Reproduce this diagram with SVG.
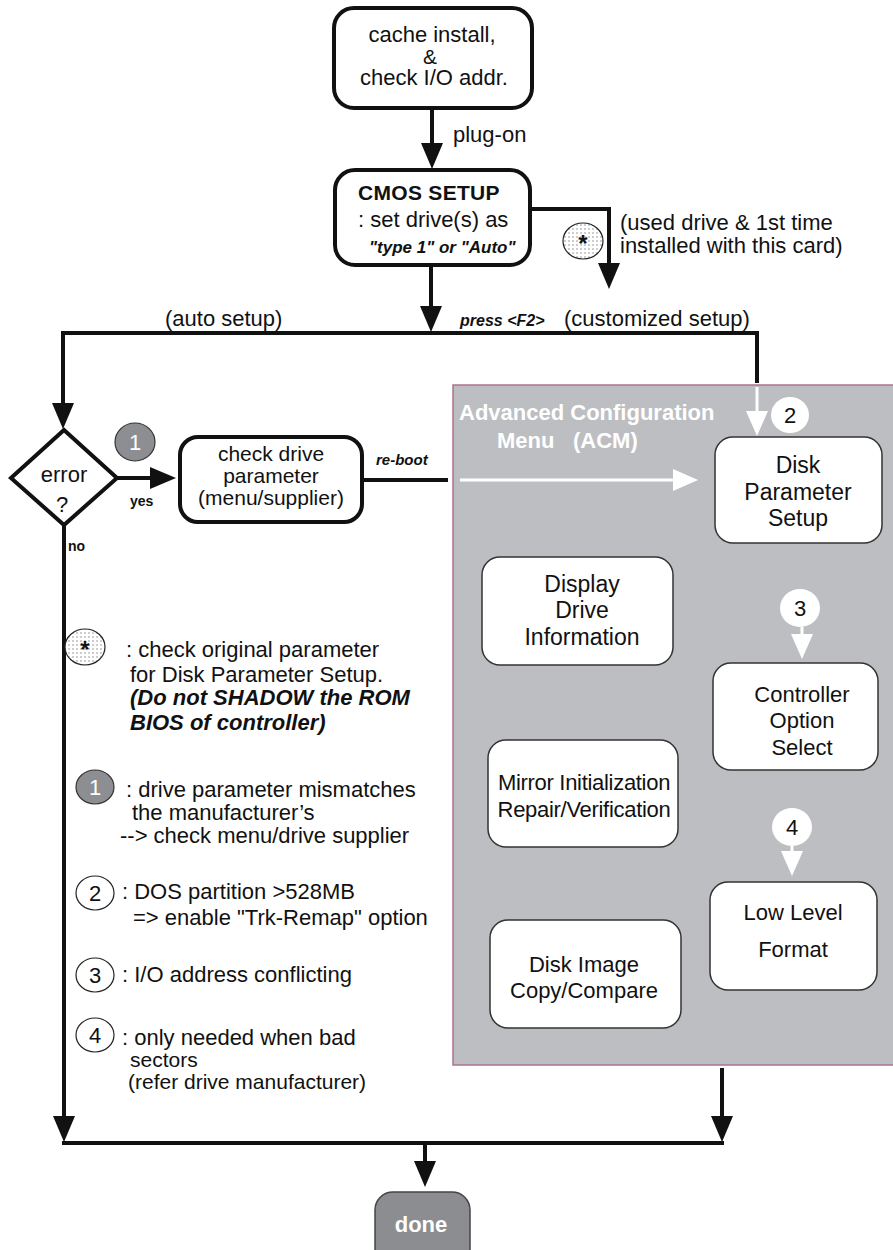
<svg xmlns="http://www.w3.org/2000/svg" width="893" height="1250" viewBox="0 0 893 1250">
<defs>
  <style>
    text{font-family:"Liberation Sans",Arial,sans-serif;fill:#111}
    .t22{font-size:22px}
    .t21{font-size:21px}
    .t23{font-size:23px}
    .mid{text-anchor:middle}
    .b{font-weight:bold}
    .bi{font-weight:bold;font-style:italic}
    .wt{fill:#fff}
    .box{fill:#fff;stroke:#111;stroke-width:4}
    .pbox{fill:#fff;stroke:#333;stroke-width:1.5}
    .ln{fill:none;stroke:#111;stroke-width:4}
    .wln{fill:none;stroke:#fff;stroke-width:3}
    .num{fill:#fff;stroke:#222;stroke-width:1.2}
  </style>
  <marker id="ah" markerUnits="userSpaceOnUse" markerWidth="26" markerHeight="22" refX="3" refY="11" orient="auto">
    <path d="M0,0 L26,11 L0,22 Z" fill="#111"/>
  </marker>
  <marker id="wah" markerUnits="userSpaceOnUse" markerWidth="25" markerHeight="22" refX="3" refY="11" orient="auto">
    <path d="M0,0 L25,11 L0,22 Z" fill="#fff"/>
  </marker>
  <pattern id="dots" width="4" height="4" patternUnits="userSpaceOnUse">
    <rect width="4" height="4" fill="#fff"/>
    <circle cx="1" cy="1" r="0.7" fill="#777"/>
  </pattern>
</defs>

<!-- ACM panel -->
<g id="acm-panel">
  <rect x="453" y="385" width="445" height="680" fill="#bdbec2" stroke="#b07090" stroke-width="1.5"/>
  <text class="t22 b wt" x="459" y="420">Advanced Configuration</text>
  <text class="t22 b wt" x="497" y="448">Menu</text>
  <text class="t22 b wt" x="573" y="448">(ACM)</text>
</g>

<!-- connectors -->
<g id="connectors">
  <path class="ln" d="M432,108 V146" marker-end="url(#ah)"/>
  <path class="ln" d="M431,265 V309" marker-end="url(#ah)"/>
  <path class="ln" d="M530,209 H609 V266" marker-end="url(#ah)"/>
  <path class="ln" d="M757,383 V333 H63 V406" marker-end="url(#ah)"/>
  <path class="ln" d="M117,478 H153" marker-end="url(#ah)"/>
  <path class="ln" d="M362,480 H448"/>
  <path class="wln" d="M460,480 H676" marker-end="url(#wah)"/>
  <path class="wln" d="M757,387 V414" marker-end="url(#wah)"/>
  <path class="wln" d="M802,627 V637" marker-end="url(#wah)"/>
  <path class="wln" d="M792,846 V854" marker-end="url(#wah)"/>
  <path class="ln" d="M64,525 V1119" marker-end="url(#ah)"/>
  <path class="ln" d="M722,1068 V1119" marker-end="url(#ah)"/>
  <path class="ln" d="M62,1143 H724"/>
  <path class="ln" d="M425,1143 V1164" marker-end="url(#ah)"/>
  <text class="t22" x="453" y="142">plug-on</text>
  <text class="t22" x="165" y="326">(auto setup)</text>
  <text class="bi" x="460" y="326" style="font-size:16px">press &lt;F2&gt;</text>
  <text class="t22" x="564" y="326">(customized setup)</text>
  <text class="t22" x="620" y="230">(used drive &amp; 1st time</text>
  <text class="t22" x="620" y="253">installed with this card)</text>
  <ellipse cx="583" cy="241" rx="20" ry="18" fill="url(#dots)" stroke="#222" stroke-width="1.2"/>
  <text class="b mid" x="583" y="252" style="font-size:24px">*</text>
  <text class="b" x="130" y="506" style="font-size:14px">yes</text>
  <text class="b" x="68" y="551" style="font-size:14px">no</text>
  <text class="bi" x="376" y="465" style="font-size:15px">re-boot</text>
  <ellipse cx="135" cy="442" rx="20" ry="19" fill="#8d8e92" stroke="#333" stroke-width="1.2"/>
  <text class="t22 mid wt" x="135" y="450">1</text>
  <ellipse cx="790" cy="415" rx="19" ry="18" fill="#fff"/>
  <text class="t22 mid" x="790" y="423">2</text>
  <ellipse cx="800" cy="608" rx="20" ry="19" fill="#fff"/>
  <text class="t22 mid" x="800" y="616">3</text>
  <ellipse cx="792" cy="827" rx="20" ry="19" fill="#fff"/>
  <text class="t22 mid" x="792" y="835">4</text>
</g>

<g id="cache-install">
  <rect class="box" x="334" y="8" width="198" height="100" rx="20"/>
  <text class="t22 mid" x="432" y="42">cache  install,</text>
  <text class="mid" x="430" y="64" style="font-size:21px">&amp;</text>
  <text class="t22 mid" x="434" y="85">check I/O addr.</text>
</g>

<g id="cmos-setup">
  <rect class="box" x="335" y="170" width="195" height="95" rx="20"/>
  <text class="b" x="358" y="200" style="font-size:21px;letter-spacing:0.3px">CMOS SETUP</text>
  <text class="t22" x="358" y="227">: set drive(s) as</text>
  <text class="bi" x="369" y="253" style="font-size:17px">"type 1" or "Auto"</text>
</g>

<g id="error">
  <polygon points="64,430 117,478 64,525 11,478" fill="#fff" stroke="#111" stroke-width="4" stroke-linejoin="miter"/>
  <text class="t22 mid" x="64" y="482">error</text>
  <text class="t22 mid" x="62" y="512">?</text>
</g>

<g id="check-drive">
  <rect class="box" x="180" y="437" width="182" height="85" rx="18"/>
  <text class="t21 mid" x="271" y="461">check drive</text>
  <text class="t21 mid" x="271" y="483">parameter</text>
  <text class="t21 mid" x="271" y="505">(menu/supplier)</text>
</g>

<g id="disk-parameter-setup">
  <rect class="pbox" x="715" y="437" width="167" height="106" rx="18"/>
  <text class="t23 mid" x="798" y="473">Disk</text>
  <text class="t23 mid" x="798" y="500">Parameter</text>
  <text class="t23 mid" x="798" y="526">Setup</text>
</g>

<g id="display-drive-information">
  <rect class="pbox" x="482" y="557" width="191" height="108" rx="18"/>
  <text class="t23 mid" x="582" y="592">Display</text>
  <text class="t23 mid" x="582" y="618">Drive</text>
  <text class="t23 mid" x="582" y="645">Information</text>
</g>

<g id="controller-option-select">
  <rect class="pbox" x="713" y="663" width="165" height="107" rx="18"/>
  <text class="t22 mid" x="802" y="702">Controller</text>
  <text class="t22 mid" x="802" y="728">Option</text>
  <text class="t22 mid" x="802" y="755">Select</text>
</g>

<g id="mirror-initialization">
  <rect class="pbox" x="488" y="740" width="190" height="107" rx="18"/>
  <text class="t22 mid" x="584" y="790" style="letter-spacing:-0.3px">Mirror Initialization</text>
  <text class="t22 mid" x="584" y="817" style="letter-spacing:-0.3px">Repair/Verification</text>
</g>

<g id="low-level-format">
  <rect class="pbox" x="710" y="882" width="167" height="108" rx="18"/>
  <text class="t22 mid" x="793" y="920">Low Level</text>
  <text class="t22 mid" x="793" y="957">Format</text>
</g>

<g id="disk-image-copy">
  <rect class="pbox" x="490" y="920" width="191" height="108" rx="18"/>
  <text class="t22 mid" x="584" y="972">Disk Image</text>
  <text class="t22 mid" x="584" y="998">Copy/Compare</text>
</g>

<g id="done">
  <rect x="375" y="1192" width="95" height="80" rx="18" fill="#8c8d91" stroke="#444" stroke-width="1.5"/>
  <text class="b mid wt" x="421" y="1232" style="font-size:22px">done</text>
</g>

<g id="legend">
  <ellipse cx="85" cy="647" rx="20" ry="18" fill="url(#dots)" stroke="#222" stroke-width="1.2"/>
  <text class="b mid" x="85" y="658" style="font-size:24px">*</text>
  <text class="t22" x="126" y="657">: check original parameter</text>
  <text class="t22" x="130" y="682">for Disk Parameter Setup.</text>
  <text class="t22 bi" x="130" y="705">(Do not SHADOW the ROM</text>
  <text class="t22 bi" x="130" y="730">BIOS of controller)</text>

  <ellipse cx="95" cy="787" rx="19" ry="17" fill="#8d8e92" stroke="#333" stroke-width="1.2"/>
  <text class="t22 mid wt" x="95" y="795">1</text>
  <text class="t22" x="126" y="797">: drive parameter mismatches</text>
  <text class="t22" x="132" y="820">the manufacturer’s</text>
  <text class="t22" x="120" y="843">--&gt; check menu/drive supplier</text>

  <ellipse class="num" cx="95" cy="893" rx="19" ry="17"/>
  <text class="t22 mid" x="95" y="901">2</text>
  <text class="t22" x="122" y="899">: DOS partition &gt;528MB</text>
  <text class="t22" x="133" y="925">=&gt; enable "Trk-Remap" option</text>

  <ellipse class="num" cx="95" cy="975" rx="19" ry="17"/>
  <text class="t22 mid" x="95" y="983">3</text>
  <text class="t22" x="122" y="982">: I/O address conflicting</text>

  <ellipse class="num" cx="95" cy="1035" rx="19" ry="17"/>
  <text class="t22 mid" x="95" y="1043">4</text>
  <text class="t22" x="122" y="1045">: only needed when bad</text>
  <text class="t21" x="130" y="1067">sectors</text>
  <text class="t21" x="128" y="1089">(refer drive manufacturer)</text>
</g>
</svg>
